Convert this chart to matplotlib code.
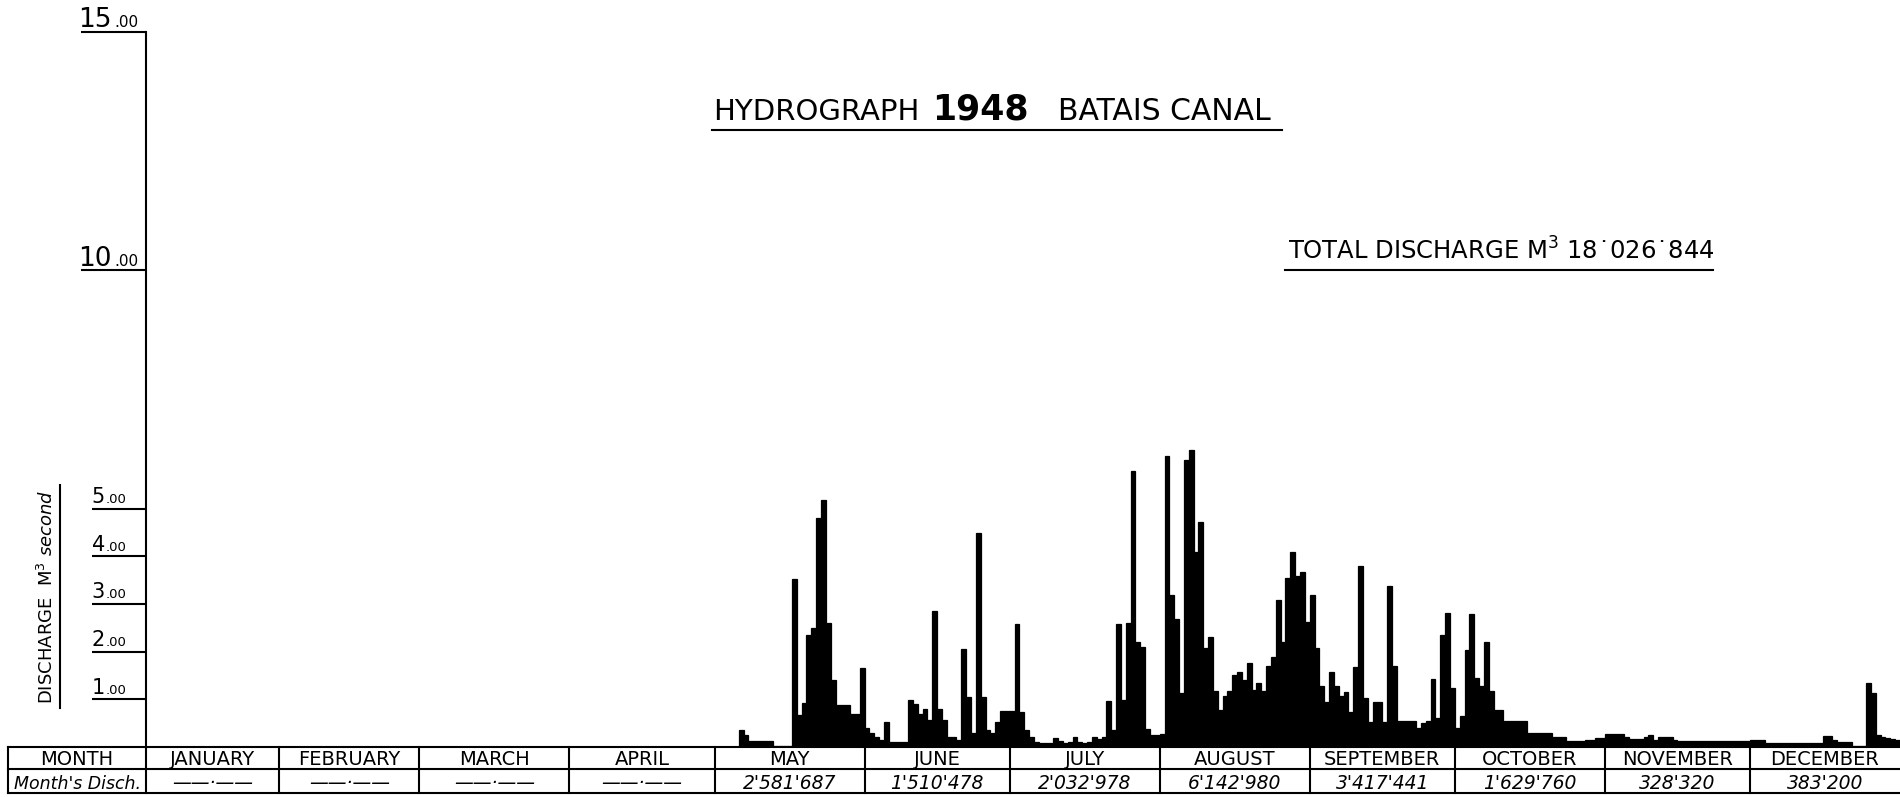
"""Hydrograph 1948, Batais Canal: daily discharge with a table of monthly totals."""
import matplotlib

matplotlib.use("Agg")
import matplotlib.pyplot as plt
import numpy as np
from matplotlib.lines import Line2D
from matplotlib.transforms import blended_transform_factory

# calendar, 1948 is a leap year
months = ["JANUARY", "FEBRUARY", "MARCH", "APRIL", "MAY", "JUNE", "JULY",
          "AUGUST", "SEPTEMBER", "OCTOBER", "NOVEMBER", "DECEMBER"]
month_days = [31, 29, 31, 30, 31, 30, 31, 31, 30, 31, 30, 31]
month_disch = [None, None, None, None, "2'581'687", "1'510'478", "2'032'978",
               "6'142'980", "3'417'441", "1'629'760", "328'320", "383'200"]
total_disch = "18˙026˙844"

may_q = [0.00, 0.00, 0.00, 0.00, 0.00, 0.35, 0.25, 0.12, 0.12, 0.12, 0.12,
         0.12, 0.03, 0.03, 0.03, 0.03, 3.53, 0.67, 0.92, 2.35, 2.50, 4.80,
         5.19, 2.60, 1.40, 0.88, 0.88, 0.88, 0.70, 0.70, 1.65]
jun_q = [0.40, 0.30, 0.20, 0.15, 0.52, 0.10, 0.10, 0.10, 0.10, 0.98, 0.90,
         0.70, 0.80, 0.57, 2.86, 0.80, 0.57, 0.20, 0.20, 0.15, 2.06, 1.05,
         0.29, 4.50, 1.05, 0.36, 0.29, 0.52, 0.75, 0.75]
jul_q = [0.75, 2.58, 0.74, 0.36, 0.20, 0.10, 0.08, 0.08, 0.08, 0.19, 0.12,
         0.08, 0.10, 0.20, 0.10, 0.08, 0.10, 0.22, 0.17, 0.20, 0.97, 0.36,
         2.58, 0.98, 2.60, 5.78, 2.20, 2.10, 0.37, 0.25, 0.25]
aug_q = [0.27, 6.10, 3.19, 2.69, 1.13, 6.03, 6.24, 4.10, 4.71, 2.08, 2.31,
         1.18, 0.78, 1.06, 1.18, 1.51, 1.58, 1.40, 1.77, 1.20, 1.34, 1.18,
         1.70, 1.89, 3.09, 2.21, 3.55, 4.10, 3.58, 3.68, 2.63]
sep_q = [3.19, 2.08, 1.27, 0.95, 1.58, 1.27, 1.06, 1.16, 0.74, 1.68, 3.80,
         1.03, 0.53, 0.95, 0.95, 0.53, 3.37, 1.69, 0.55, 0.55, 0.55, 0.55,
         0.40, 0.50, 0.55, 1.43, 0.60, 2.35, 2.82, 1.24]
oct_q = [0.40, 0.64, 2.04, 2.79, 1.45, 1.27, 2.21, 1.18, 0.78, 0.78, 0.55,
         0.55, 0.55, 0.55, 0.55, 0.29, 0.29, 0.29, 0.29, 0.29, 0.22, 0.22,
         0.22, 0.13, 0.13, 0.13, 0.13, 0.15, 0.15, 0.19, 0.19]
nov_q = [0.27, 0.27, 0.27, 0.27, 0.20, 0.16, 0.16, 0.16, 0.20, 0.25, 0.15,
         0.20, 0.22, 0.22, 0.15, 0.13, 0.13, 0.13, 0.13, 0.13, 0.13, 0.13,
         0.13, 0.13, 0.13, 0.13, 0.13, 0.13, 0.13, 0.13]
dec_q = [0.14, 0.15, 0.15, 0.09, 0.09, 0.09, 0.09, 0.09, 0.09, 0.09, 0.09,
         0.09, 0.09, 0.09, 0.09, 0.24, 0.24, 0.15, 0.10, 0.10, 0.10, 0.02,
         0.02, 0.02, 1.35, 1.13, 0.25, 0.20, 0.18, 0.16, 0.15]

y_major = [10, 15]
y_minor = [1, 2, 3, 4, 5]

W, H = 1900, 797
LW = 1.5

month_start = np.concatenate([[0], np.cumsum(month_days)])
q = np.concatenate([may_q, jun_q, jul_q, aug_q, sep_q, oct_q, nov_q, dec_q])
edges = np.arange(month_start[4], month_start[4] + len(q) + 1)

fig = plt.figure(figsize=(W / 100, H / 100), dpi=100)
ax = fig.add_axes([146 / W, 1 - 747 / H, (W - 146) / W, (747 - 32) / H])
# thin outline mimics the ink spread of the hand-inked bars
ax.stairs(q, edges, fill=True, facecolor="black", edgecolor="black",
          linewidth=0.9, baseline=0)
ax.set_xlim(3.5, month_start[-1])
ax.set_ylim(0, 15)

for side in ("top", "right", "bottom"):
    ax.spines[side].set_visible(False)
ax.spines["left"].set_linewidth(LW)
ax.set_xticks([])
ax.set_yticks(y_major)
ax.set_yticks(y_minor, minor=True)
ax.tick_params(axis="y", which="major", length=47, width=LW, labelleft=False)
ax.tick_params(axis="y", which="minor", length=39, width=LW, labelleft=False)

# tick labels: large integer part, small decimals
fy = blended_transform_factory(fig.transFigure, ax.transData)
for v in y_major:
    ax.text(112 / W, v + 0.1, str(v), transform=fy, ha="right",
            va="baseline", fontsize=19)
    ax.text(114 / W, v + 0.1, ".00", transform=fy, ha="left",
            va="baseline", fontsize=11)
for v in y_minor:
    ax.text(105 / W, v + 0.12, str(v), transform=fy, ha="right",
            va="baseline", fontsize=15)
    ax.text(106 / W, v + 0.12, ".00", transform=fy, ha="left",
            va="baseline", fontsize=9.5)

fig.text(47 / W, 1 - 597 / H, "DISCHARGE  M$^3$ $\\mathit{second}$",
         rotation=90, ha="center", va="center", fontsize=13)
fig.add_artist(Line2D([60 / W, 60 / W], [1 - 485 / H, 1 - 708 / H],
                      color="black", lw=LW))

# title
fig.text(713 / W, 1 - 120 / H, "HYDROGRAPH", fontsize=21, va="baseline")
fig.text(932 / W, 1 - 120 / H, "1948", fontsize=25, fontweight="bold",
         va="baseline")
fig.text(1058 / W, 1 - 120 / H, "BATAIS CANAL", fontsize=21.5, va="baseline")
fig.add_artist(Line2D([712 / W, 1282 / W], [1 - 130 / H, 1 - 130 / H],
                      color="black", lw=LW))

fig.text(1288 / W, 1 - 260 / H, "TOTAL DISCHARGE M$^3$ " + total_disch,
         fontsize=17.5, va="baseline")
fig.add_artist(Line2D([1285 / W, 1713 / W], [1 - 270 / H, 1 - 270 / H],
                      color="black", lw=LW))

# table of monthly discharge under the graph
row_top, row_mid, row_bot = 1 - 747 / H, 1 - 769 / H, 1 - 793 / H
tx = blended_transform_factory(ax.transData, fig.transFigure)
for yy in (row_top, row_mid, row_bot):
    fig.add_artist(Line2D([8 / W, 1], [yy, yy], color="black", lw=LW))
fig.add_artist(Line2D([8 / W, 8 / W], [row_bot, row_top], color="black", lw=LW))
fig.add_artist(Line2D([146 / W, 146 / W], [row_bot, row_top], color="black", lw=LW))
for d in month_start[1:12]:
    fig.add_artist(Line2D([d, d], [row_bot, row_top], transform=tx,
                          color="black", lw=LW))

fig.text(77 / W, 1 - 765 / H, "MONTH", ha="center", va="baseline", fontsize=14)
fig.text(77 / W, 1 - 789 / H, "Month's Disch.", ha="center", va="baseline",
         fontsize=12.5, style="italic")
lefts = month_start[:-1].astype(float)
lefts[0] = ax.get_xlim()[0]
for i, name in enumerate(months):
    xc = (lefts[i] + month_start[i + 1]) / 2
    ax.text(xc, 1 - 765 / H, name, transform=tx, ha="center",
            va="baseline", fontsize=14)
    label = month_disch[i] if month_disch[i] else "——·——"
    ax.text(xc, 1 - 789 / H, label, transform=tx, ha="center",
            va="baseline", fontsize=13.5, style="italic")

fig.savefig("out.png", dpi=100)
